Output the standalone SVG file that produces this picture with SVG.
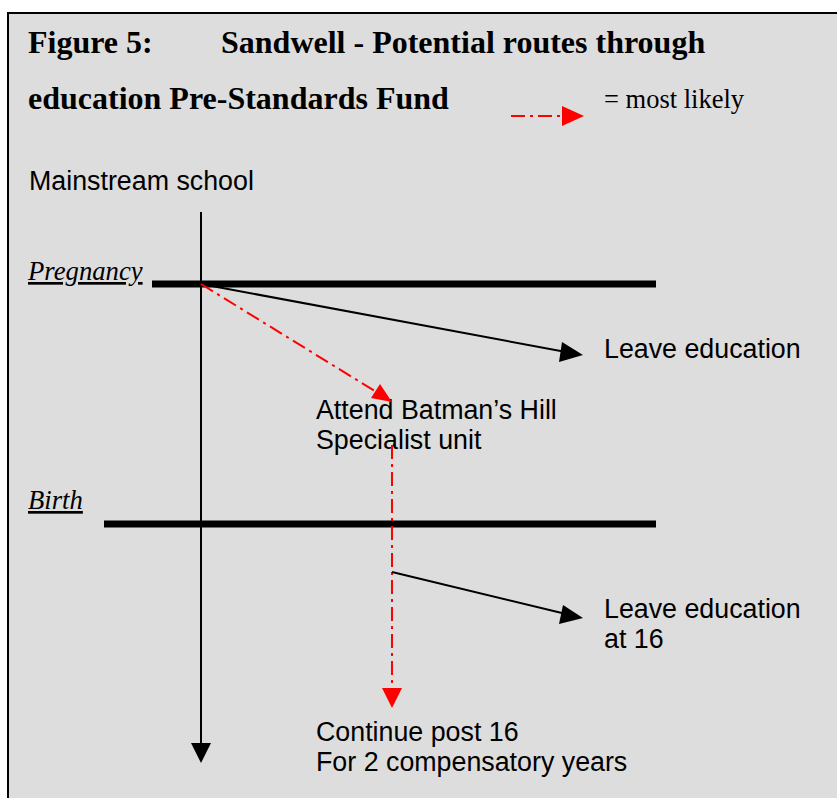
<svg xmlns="http://www.w3.org/2000/svg" width="837" height="798" viewBox="0 0 837 798">
  <style>
    .title { font-family: "Liberation Serif", "Times New Roman", serif; font-weight: bold; font-size: 32px; fill: #000; }
    .legend { font-family: "Liberation Serif", "Times New Roman", serif; font-size: 26.5px; fill: #000; }
    .stage { font-family: "Liberation Serif", "Times New Roman", serif; font-style: italic; font-size: 26.7px; fill: #000; text-decoration: underline; }
    .label { font-family: "Liberation Sans", Arial, sans-serif; font-size: 26.8px; fill: #000; }
    .bar { stroke: #000; stroke-width: 7; }
    .route { stroke: #000; stroke-width: 2; fill: none; }
    .likely { stroke: #ff0000; stroke-width: 2; fill: none; stroke-dasharray: 14 5 3 5; }
  </style>

  <!-- page background and frame -->
  <rect x="0" y="0" width="837" height="798" fill="#ffffff"/>
  <rect x="8" y="13" width="840" height="800" fill="#dddddd" stroke="#000" stroke-width="2"/>

  <!-- heading -->
  <g id="heading">
    <text class="title" x="28" y="53">Figure 5:</text>
    <text class="title" x="221" y="53">Sandwell - Potential routes through</text>
    <text class="title" x="28" y="109">education Pre-Standards Fund</text>
  </g>

  <!-- key -->
  <g id="key">
    <line x1="511" y1="116" x2="562" y2="116" class="likely"/>
    <path d="M562,106 L584,116 L562,126 Z" fill="#ff0000"/>
    <text class="legend" x="604" y="108">= most likely</text>
  </g>

  <!-- stage labels and bars -->
  <g id="mainstream">
    <text class="label" x="29" y="190">Mainstream school</text>
  </g>
  <g id="pregnancy">
    <text class="stage" x="28" y="280">Pregnancy</text>
    <line x1="152" y1="284" x2="656" y2="284" class="bar"/>
  </g>
  <g id="birth">
    <text class="stage" x="28" y="509">Birth</text>
    <line x1="104" y1="524" x2="656" y2="524" class="bar"/>
  </g>

  <!-- outcome nodes -->
  <g id="leave-education">
    <text class="label" x="604" y="358">Leave education</text>
  </g>
  <g id="batmans-hill">
    <text class="label" x="316" y="419">Attend Batman’s Hill</text>
    <text class="label" x="316" y="449">Specialist unit</text>
  </g>
  <g id="leave-at-16">
    <text class="label" x="604" y="618">Leave education</text>
    <text class="label" x="604" y="648">at 16</text>
  </g>
  <g id="continue-post-16">
    <text class="label" x="316" y="741">Continue post 16</text>
    <text class="label" x="316" y="771">For 2 compensatory years</text>
  </g>

  <!-- connectors -->
  <g id="connectors">
    <!-- main timeline -->
    <line x1="201" y1="212" x2="201" y2="745" class="route"/>
    <path d="M191,743 L201,763 L211,743 Z" fill="#000"/>
    <!-- pregnancy to leave education -->
    <line x1="201" y1="284" x2="566" y2="352" class="route"/>
    <path d="M562,342 L583,355 L559,362 Z" fill="#000"/>
    <!-- pregnancy to specialist unit -->
    <line x1="201" y1="284" x2="378" y2="393" class="likely"/>
    <path d="M380,384 L392,402 L371,398 Z" fill="#ff0000"/>
    <!-- specialist unit to post 16 -->
    <line x1="392" y1="445" x2="392" y2="690" class="likely"/>
    <path d="M382,688 L392,708 L402,688 Z" fill="#ff0000"/>
    <!-- unit to leave at 16 -->
    <line x1="392" y1="572" x2="566" y2="614" class="route"/>
    <path d="M563,605 L583,618 L559,624 Z" fill="#000"/>
  </g>
</svg>
